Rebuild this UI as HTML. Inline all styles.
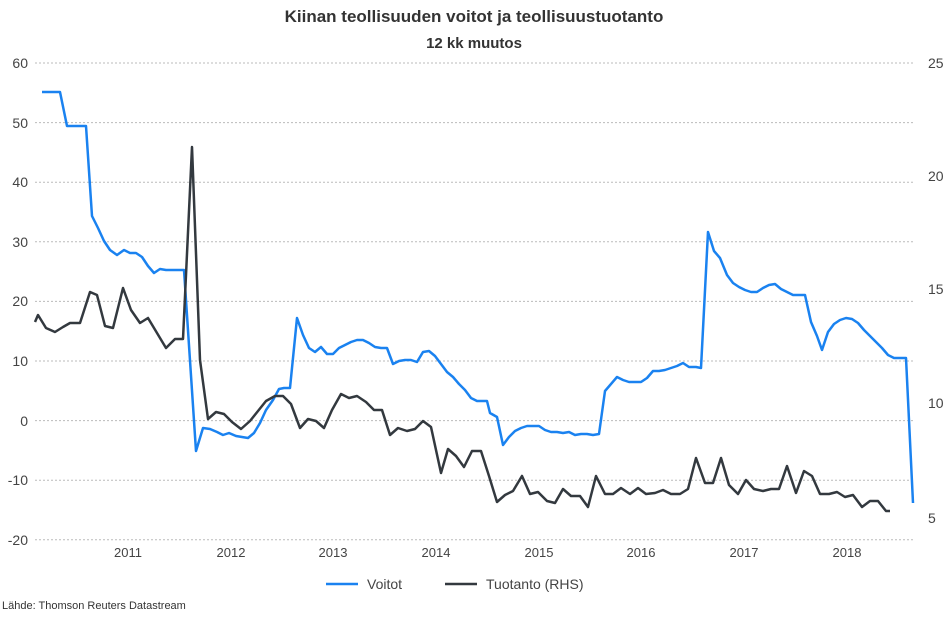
<!DOCTYPE html>
<html><head><meta charset="utf-8"><style>
body{margin:0;background:#fff;width:948px;height:612px;overflow:hidden;font-family:"Liberation Sans",sans-serif}
</style></head><body>
<svg width="948" height="612" xmlns="http://www.w3.org/2000/svg" font-family="Liberation Sans, sans-serif">
<text x="474" y="22" text-anchor="middle" font-size="17" font-weight="bold" fill="#333">Kiinan teollisuuden voitot ja teollisuustuotanto</text>
<text x="474" y="48" text-anchor="middle" font-size="15" font-weight="bold" fill="#333">12 kk muutos</text>
<g stroke="#bbb" stroke-dasharray="2,2" stroke-width="1">
<line x1="35" x2="915" y1="63" y2="63"/><line x1="35" x2="915" y1="122.6" y2="122.6"/><line x1="35" x2="915" y1="182.2" y2="182.2"/><line x1="35" x2="915" y1="241.8" y2="241.8"/><line x1="35" x2="915" y1="301.4" y2="301.4"/><line x1="35" x2="915" y1="361" y2="361"/><line x1="35" x2="915" y1="420.6" y2="420.6"/><line x1="35" x2="915" y1="480.2" y2="480.2"/><line x1="35" x2="915" y1="539.8" y2="539.8"/>
</g>
<g font-size="14" fill="#444" text-anchor="end">
<text x="28" y="68">60</text><text x="28" y="128">50</text><text x="28" y="187">40</text><text x="28" y="247">30</text><text x="28" y="306">20</text><text x="28" y="366">10</text><text x="28" y="426">0</text><text x="28" y="485">-10</text><text x="28" y="545">-20</text>
</g>
<g font-size="14" fill="#444" text-anchor="start">
<text x="928" y="68">25</text><text x="928" y="181">20</text><text x="928" y="294">15</text><text x="928" y="408">10</text><text x="928" y="523">5</text>
</g>
<g font-size="13" fill="#444" text-anchor="middle">
<text x="128" y="557">2011</text><text x="231" y="557">2012</text><text x="333" y="557">2013</text><text x="436" y="557">2014</text><text x="539" y="557">2015</text><text x="641" y="557">2016</text><text x="744" y="557">2017</text><text x="847" y="557">2018</text>
</g>
<polyline fill="none" stroke="#1a82f0" stroke-width="2.5" stroke-linejoin="round" points="42,92 60,92 67,126 86,126 92,216 98,228 104,241 110,250 117,255 124,250 130,253 136,253 142,257 148,266 154,273 160,269 166,270 172,270 184,270 196,451 203,428 210,429 217,432 223,435 229,433 236,436 242,437 248,438 254,433 260,423 266,410 273,400 279,389 284,388 290,388 297,318 303,335 309,348 315,352 321,347 327,354 333,354 339,348 345,345 351,342 357,340 363,340 369,343 375,347 381,348 387,348 393,364 399,361 405,360 411,360 417,362 423,352 429,351 435,356 441,364 447,372 453,377 459,384 465,390 471,398 477,401 487,401 490,413 497,417 503,445 509,437 515,431 521,428 527,426 533,426 539,426 545,430 551,432 557,432 563,433 569,432 575,435 581,434 587,434 593,435 599,434 605,391 617,377 623,380 629,382 635,382 641,382 647,378 653,371 659,371 665,370 671,368 677,366 683,363 689,367 696,367 701,368 708,232 714,251 720,258 727,275 733,283 739,287 745,290 751,292 757,292 763,288 769,285 775,284 781,289 787,292 793,295 799,295 805,295 811,322 817,336 822,350 828,332 834,324 840,320 846,318 852,319 858,323 864,330 870,336 876,342 882,348 888,355 894,358 900,358 906,358 913,503"/>
<polyline fill="none" stroke="#33393f" stroke-width="2.5" stroke-linejoin="round" points="35,322 38,315 46,328 55,332 63,327 70,323 80,323 90,292 97,295 105,326 113,328 123,288 131,310 140,323 148,318 157,333 166,348 175,339 183,339 192,147 200,360 208,419 216,412 224,414 232,422 241,429 250,421 258,411 266,401 275,396 283,396 291,404 300,428 308,419 316,421 324,428 332,410 341,394 349,398 357,396 366,402 374,410 382,410 390,435 398,428 407,431 415,429 423,421 431,427 441,473 448,449 456,456 464,467 472,451 481,451 489,476 497,502 505,495 513,491 522,476 530,494 538,492 547,501 555,503 563,489 571,496 580,496 588,507 596,476 605,494 613,494 621,488 630,494 638,488 646,494 655,493 663,490 671,494 680,494 688,489 696,458 705,483 713,483 721,458 729,485 738,494 746,480 754,489 763,491 771,489 779,489 787,466 796,493 804,471 812,476 820,494 829,494 837,492 845,497 853,495 862,507 870,501 878,501 886,511 890,511"/>
<line x1="326" x2="358" y1="584" y2="584" stroke="#1a82f0" stroke-width="2.5"/>
<text x="367" y="589" font-size="14" fill="#444">Voitot</text>
<line x1="445" x2="477" y1="584" y2="584" stroke="#33393f" stroke-width="2.5"/>
<text x="486" y="589" font-size="14" fill="#444">Tuotanto (RHS)</text>
<text x="2" y="609" font-size="11" fill="#333">Lähde: Thomson Reuters Datastream</text>
</svg>
</body></html>
